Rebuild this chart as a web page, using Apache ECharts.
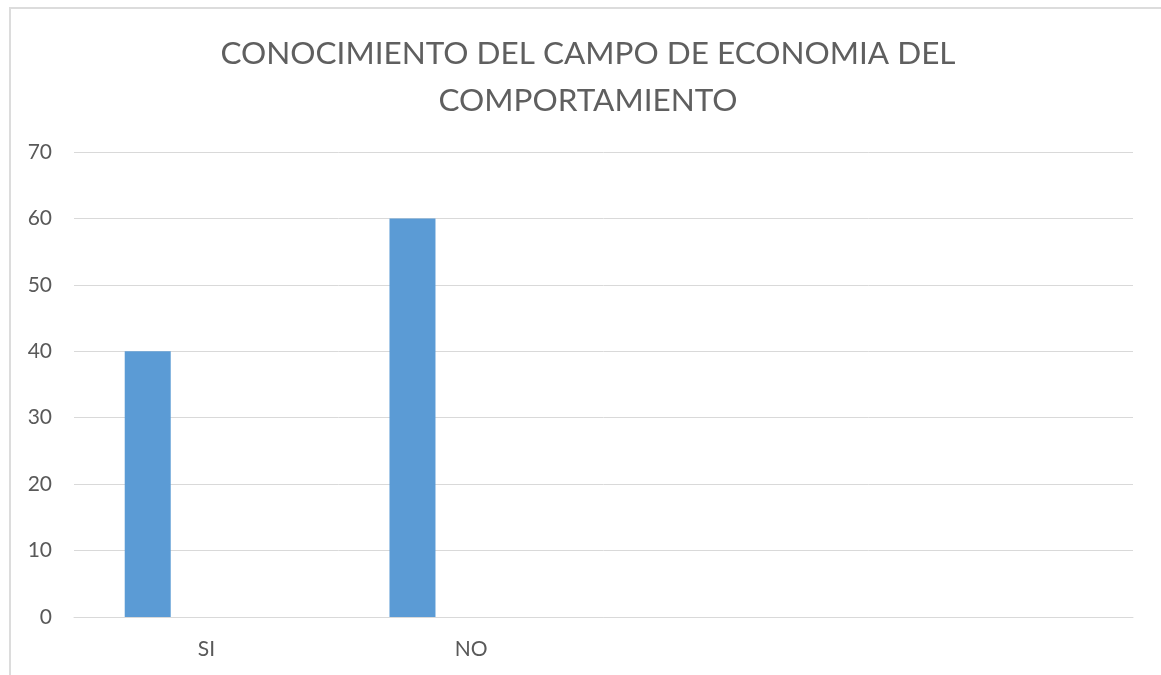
<!DOCTYPE html>
<html>
<head>
<meta charset="utf-8">
<script src="https://cdn.jsdelivr.net/npm/echarts@6/dist/echarts.min.js"></script>
<style>
	html, body { margin: 0; padding: 0; background: #fff; }
	#wrap { position: relative; width: 1161px; height: 675px; overflow: hidden; }
	#frame {
		position: absolute; left: 9px; top: 7px; width: 1200px; height: 700px;
		border-left: 2px solid #dcdcdc; border-top: 2px solid #dcdcdc;
	}
	#chart { position: absolute; left: 0; top: 0; width: 1161px; height: 675px; }
</style>
</head>
<body>
<div id="wrap">
	<div id="frame"></div>
	<div id="chart"></div>
</div>
<script>
	const titleText = "CONOCIMIENTO DEL CAMPO DE ECONOMIA DEL\nCOMPORTAMIENTO"
	const categories = ["SI", "NO", "", ""]
	const serie1 = [40, 60, null, null]
	const serie2 = [null, null, null, null] // serie vacia, solo ocupa su hueco
	const yTicks = { min: 0, max: 70, interval: 10 }

	const font = "Lato, 'Open Sans', sans-serif"
	const chart = echarts.init(document.getElementById("chart"))

	chart.setOption({
		animation: false,
		title: {
			text: titleText,
			left: 583,
			top: 25,
			textAlign: "center",
			textStyle: {
				fontFamily: font,
				fontSize: 31.5,
				fontWeight: "normal",
				lineHeight: 47,
				color: "#5f5f5f"
			}
		},
		grid: {
			left: 74,
			right: 28,
			top: 152,
			bottom: 58,
			containLabel: false
		},
		xAxis: {
			type: "category",
			data: categories,
			axisLine: {
				show: true,
				lineStyle: { color: "#d9d9d9", width: 1 }
			},
			axisTick: { show: false },
			axisLabel: {
				margin: 22,
				fontFamily: font,
				fontSize: 21,
				color: "#595959"
			}
		},
		yAxis: {
			type: "value",
			min: yTicks.min,
			max: yTicks.max,
			interval: yTicks.interval,
			axisLine: { show: false },
			axisTick: { show: false },
			axisLabel: {
				margin: 22,
				fontFamily: font,
				fontSize: 21,
				color: "#595959"
			},
			splitLine: {
				show: true,
				lineStyle: { color: "#d9d9d9", width: 1 }
			}
		},
		series: [
			{
				name: "Serie 1",
				type: "bar",
				data: serie1,
				barWidth: 46,
				barGap: "155%",
				itemStyle: { color: "#5b9bd5" }
			},
			{
				name: "Serie 2",
				type: "bar",
				data: serie2,
				barWidth: 46,
				itemStyle: { color: "#ed7d31" }
			}
		]
	})
</script>
</body>
</html>
